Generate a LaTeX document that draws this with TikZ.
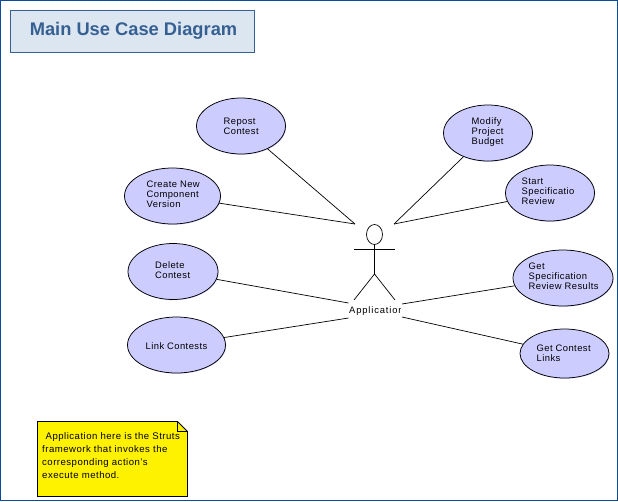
\documentclass[tikz,border=0pt]{standalone}
\usepackage{fontspec}
\setmainfont{Liberation Sans}
\usetikzlibrary{shapes.geometric}
\definecolor{frameblue}{HTML}{0B4C9A}
\definecolor{titleblue}{HTML}{366092}
\definecolor{titlefill}{HTML}{DCE6F1}
\definecolor{ucfill}{HTML}{CCCCFF}
\tikzset{
  uc/.style={ellipse,draw=black,line width=.75pt,fill=ucfill,inner sep=0pt,
    preaction={fill=ucfill,transform canvas={xshift=.6pt,yshift=-.7pt}}},
  uctext/.style={anchor=west,inner sep=0pt,align=left,font=\fontsize{9.4}{10}\selectfont\addfontfeature{LetterSpace=4.5}},
  actortext/.style={anchor=west,inner sep=0pt,font=\fontsize{9.4}{10}\selectfont\addfontfeature{LetterSpace=9}},
  assoc/.style={draw=black,line width=.7pt},
  actorline/.style={draw=black,line width=.7pt},
  notetext/.style={anchor=north west,inner sep=0pt,align=left,font=\fontsize{9.6}{13}\selectfont\addfontfeature{LetterSpace=5}}
}
\begin{document}
\begin{tikzpicture}[x=1pt,y=-1pt]
\useasboundingbox (0,0) rectangle (618,501);
\fill[white] (0,0) rectangle (618,501);
\node[draw=frameblue,line width=1.6pt,minimum width=617pt,minimum height=500pt,inner sep=0pt] (frame) at (309,250.5) {};
% title
\node[draw=titleblue,line width=1pt,fill=titlefill,minimum width=244pt,minimum height=42pt,inner sep=0pt] (title) at (132.5,31.5) {};
\node[inner sep=0pt,text=titleblue,font=\fontsize{18.3}{20}\bfseries\selectfont] (titleT) at (133.5,31) {Main Use Case Diagram};
% use cases
\node[uc,minimum width=89pt,minimum height=56pt] (repost) at (241,126) {};
\node[uc,minimum width=96pt,minimum height=56pt] (create) at (172.5,196) {};
\node[uc,minimum width=90pt,minimum height=56pt] (delete) at (173,271.5) {};
\node[uc,minimum width=98pt,minimum height=56pt] (link) at (176.5,345) {};
\node[uc,minimum width=89pt,minimum height=56pt] (modify) at (488,133) {};
\node[uc,minimum width=89pt,minimum height=56pt] (start) at (550,193) {};
\node[uc,minimum width=100pt,minimum height=56pt] (getspec) at (563,278) {};
\node[uc,minimum width=89pt,minimum height=49pt] (getlinks) at (564.5,353.5) {};
\node[uctext] (repostT) at (223.5,126) {Repost\\Contest};
\node[uctext] (createT) at (146.5,194) {Create New\\Component\\Version};
\node[uctext] (deleteT) at (155,270) {Delete\\Contest};
\node[uctext] (linkT) at (145.5,346) {Link Contests};
\node[uctext] (modifyT) at (471.5,132) {Modify\\Project\\Budget};
\node[uctext] (startT) at (521.5,191) {Start\\Specificatio\\Review};
\node[uctext] (getspecT) at (528.5,276) {Get\\Specification\\Review Results};
\node[uctext] (getlinksT) at (536.5,353) {Get Contest\\Links};
% actor
\node[ellipse,draw=black,line width=.7pt,minimum width=16pt,minimum height=20pt,inner sep=0pt] (head) at (374.5,234.5) {};
\coordinate (armL) at (354,249.5);
\coordinate (armR) at (395,249.5);
\coordinate (hip) at (374.5,274);
\coordinate (footL) at (354,300);
\coordinate (footR) at (395,300);
\draw[actorline] (head) -- (hip);
\draw[actorline] (armL) -- (armR);
\draw[actorline] (footL) -- (hip) -- (footR);
\begin{scope}
\clip (340,300) rectangle (400.5,322);
\node[actortext] (actorT) at (349,311.5) {Application};
\end{scope}
% connector ends
\coordinate (tl) at (355,224);
\coordinate (tr) at (394,224);
\coordinate (ml) at (348.5,303);
\coordinate (bl) at (348.5,318);
\coordinate (mr) at (402,304);
\coordinate (br) at (402,317);
\draw[assoc] (repost) -- (tl);
\draw[assoc] (create) -- (tl);
\draw[assoc] (delete) -- (ml);
\draw[assoc] (link) -- (bl);
\draw[assoc] (modify) -- (tr);
\draw[assoc] (start) -- (tr);
\draw[assoc] (getspec) -- (mr);
\draw[assoc] (getlinks) -- (br);
% note
\draw[draw=black,line width=.8pt,fill=yellow] (37.5,421.5) -- (177.5,421.5) -- (187.5,431.5) -- (187.5,496.5) -- (37.5,496.5) -- cycle;
\draw[draw=black,line width=.8pt] (177.5,421.5) -- (177.5,431.5) -- (187.5,431.5);
\node[notetext] (noteT) at (42,432.5) {\hspace*{3.5pt}Application here is the Struts\\framework that invokes the\\corresponding action's\\execute method.};
\end{tikzpicture}
\end{document}
